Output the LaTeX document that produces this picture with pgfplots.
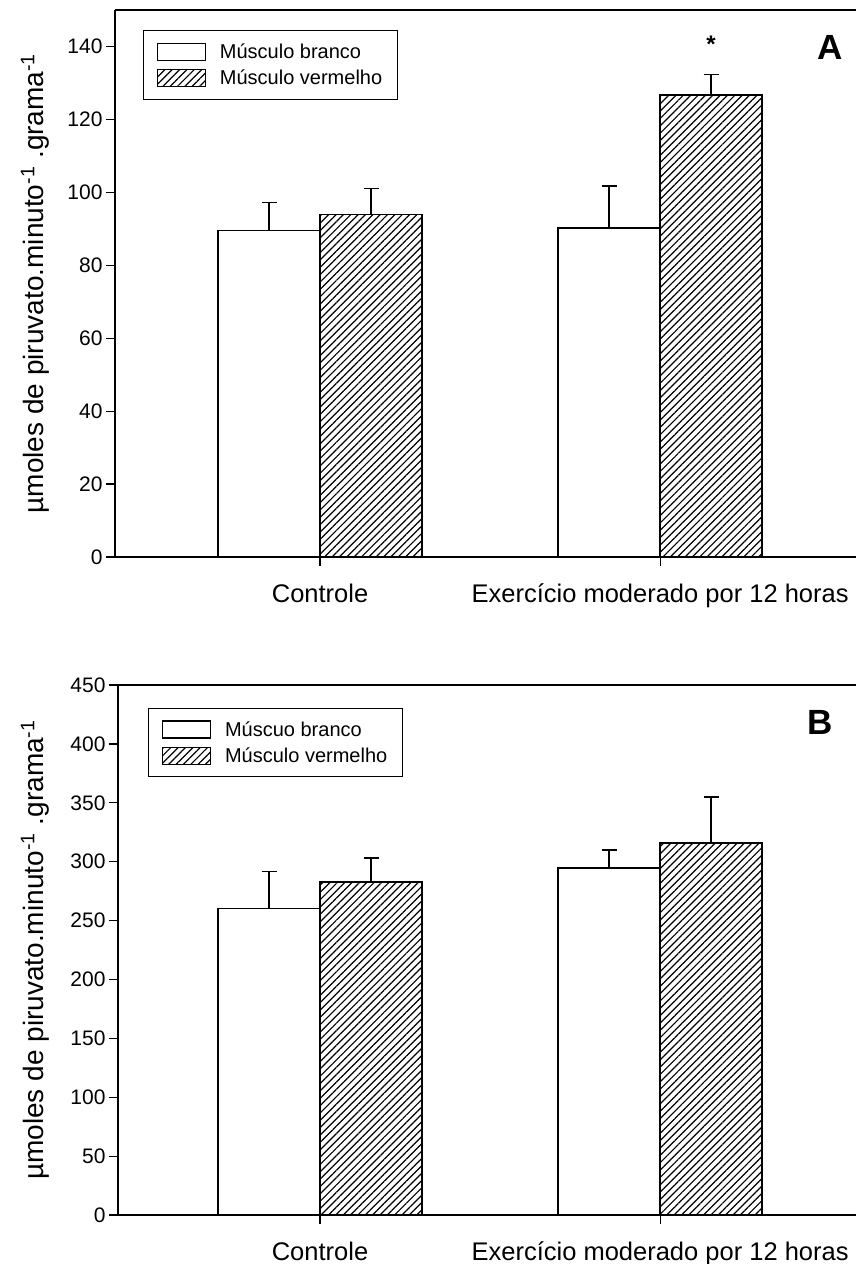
\documentclass[border=0pt]{standalone}
\usepackage{fontspec}
\setmainfont{Liberation Sans}
\usepackage{pgfplots}
\pgfplotsset{compat=1.18}
\usetikzlibrary{patterns.meta}

\pgfplotsset{
  panel/.style={
    scale only axis,
    enlargelimits=false,
    axis x line*=box,
    axis y line*=left,
    axis line style={-, line width=1.6pt},
    every outer x axis line/.append style={-},
    every outer y axis line/.append style={-},
    xtick pos=left,
    ytick pos=left,
    tick align=outside,
    major tick length=9pt,
    tick style={line width=1.2pt, black},
    xtick={0,1},
    xticklabels={Controle, Exercício moderado por 12 horas},
    xticklabel style={font=\fontsize{25.5}{30}\selectfont, yshift=-14pt},
    yticklabel style={font=\fontsize{21}{25}\selectfont, /pgf/number format/assume math mode=true},
    legend style={draw=black, line width=1.2pt, anchor=north west,
      font=\fontsize{20}{24}\selectfont, inner xsep=13pt, inner ysep=11pt,
      row sep=6pt, cells={anchor=west},
      /tikz/every odd column/.append style={column sep=12pt}},
    legend cell align=left,
    legend image code/.code={\draw[#1, line width=1.2pt] (0pt,-8.5pt) rectangle (48pt,8.5pt);},
  },
  whitebar/.style={ybar, bar width=102pt, bar shift=-51pt, draw=black, fill=white, line width=1.3pt},
  hatchbar/.style={ybar, bar width=102pt, bar shift=51pt, draw=black,
    pattern={Lines[angle=45, distance=5.2pt, line width=1.2pt]}, line width=1.3pt},
  errs/.style={forget plot, draw=none, mark=none,
    error bars/.cd, y dir=plus, y explicit,
    error bar style={draw=black, line width=1.3pt, solid},
    error mark options={draw=black, rotate=90, line width=1.3pt, mark size=7.5pt}},
}

\begin{document}
\begin{tikzpicture}
\useasboundingbox (0pt,0pt) rectangle (857pt,-1264pt);

% Panel A
\begin{axis}[panel,
  at={(115pt,-557pt)}, anchor=south west,
  width=741pt, height=547pt,
  xmin=-0.603, xmax=1.576, ymin=0, ymax=150,
  ytick={0,20,...,140},
  ylabel={\textmu moles de piruvato.minuto\textsuperscript{-1} .grama\textsuperscript{-1}},
  every axis y label/.style={at={(axis description cs:-0.108,0.5)}, rotate=90, anchor=center,
    font=\fontsize{28}{34}\selectfont},
  legend style={at={(axis description cs:0.038,0.963)}},
]
\addplot[whitebar] coordinates {(0,89.5) (1,90.2)};
\addlegendentry{Músculo branco}
\addplot[hatchbar] coordinates {(0,94) (1,126.7)};
\addlegendentry{Músculo vermelho}
\addplot[errs] coordinates {(-0.15,89.5) +- (0,7.8) (0.85,90.2) +- (0,11.5)
                            (0.15,94) +- (0,7) (1.15,126.7) +- (0,5.7)};
\node[font=\bfseries\fontsize{24}{24}\selectfont] at (axis cs:1.15,140.5) {*};
\node[font=\bfseries\fontsize{35}{35}\selectfont] at (rel axis cs:0.965,0.932) {A};
\end{axis}

% Panel B
\begin{axis}[panel,
  at={(118pt,-1215pt)}, anchor=south west,
  width=738pt, height=530pt,
  xmin=-0.594, xmax=1.576, ymin=0, ymax=450,
  ytick={0,50,...,450},
  ylabel={\textmu moles de piruvato.minuto\textsuperscript{-1} .grama\textsuperscript{-1}},
  every axis y label/.style={at={(axis description cs:-0.1125,0.5)}, rotate=90, anchor=center,
    font=\fontsize{28}{34}\selectfont},
  legend style={at={(axis description cs:0.041,0.957)}},
]
\addplot[whitebar] coordinates {(0,260) (1,294.6)};
\addlegendentry{Múscuo branco}
\addplot[hatchbar] coordinates {(0,282.7) (1,315.8)};
\addlegendentry{Músculo vermelho}
\addplot[errs] coordinates {(-0.15,260) +- (0,31.4) (0.85,294.6) +- (0,15.4)
                            (0.15,282.7) +- (0,20.3) (1.15,315.8) +- (0,39.2)};
\node[font=\bfseries\fontsize{35}{35}\selectfont] at (rel axis cs:0.951,0.930) {B};
\end{axis}
\end{tikzpicture}
\end{document}
